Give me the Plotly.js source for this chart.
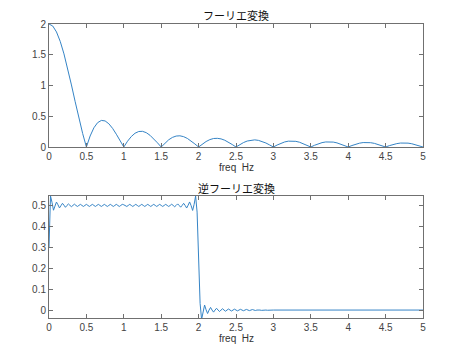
<!DOCTYPE html>
<html>
<head>
<meta charset="utf-8">
<script src="https://cdn.plot.ly/plotly-3.0.1.min.js"></script>
<style>html,body{margin:0;padding:0;background:#fff;}#chart{width:474px;height:351px;}</style>
</head>
<body>
<div id="chart"></div>
<script>
// Top: amplitude spectrum, sampled every 0.05 Hz from 0 to 5
const specStep = 0.05;
const specY = [
  2.000, 1.967, 1.871, 1.717, 1.514, 1.273, 1.009, 0.736, 0.468, 0.219, 0.000,
  0.179, 0.312, 0.396, 0.432, 0.424, 0.378, 0.303, 0.208, 0.104, 0.000,
  0.094, 0.170, 0.224, 0.252, 0.255, 0.233, 0.191, 0.134, 0.068, 0.000,
  0.063, 0.117, 0.156, 0.178, 0.182, 0.168, 0.139, 0.099, 0.050, 0.000,
  0.048, 0.089, 0.120, 0.138, 0.141, 0.132, 0.110, 0.078, 0.040, 0.000,
  0.039, 0.072, 0.097, 0.112, 0.116, 0.108, 0.090, 0.065, 0.033, 0.000,
  0.032, 0.060, 0.082, 0.095, 0.098, 0.092, 0.077, 0.055, 0.029, 0.000,
  0.028, 0.052, 0.071, 0.082, 0.085, 0.080, 0.067, 0.048, 0.025, 0.000,
  0.024, 0.046, 0.062, 0.072, 0.075, 0.070, 0.059, 0.043, 0.022, 0.000,
  0.022, 0.041, 0.055, 0.064, 0.067, 0.063, 0.053, 0.038, 0.020, 0.000
];
// Bottom: inverse transform, sampled every 0.02 from 0 to 3, then flat to 5
const invStep = 0.02;
const invY = [
  0.300, 0.545, 0.515, 0.477, 0.497, 0.516, 0.503, 0.488, 0.499, 0.510,
  0.501, 0.491, 0.500, 0.507, 0.500, 0.494, 0.500, 0.506, 0.500, 0.495,
  0.500, 0.505, 0.500, 0.495, 0.500, 0.505, 0.500, 0.495, 0.500, 0.505,
  0.500, 0.495, 0.500, 0.505, 0.500, 0.495, 0.500, 0.505, 0.500, 0.495,
  0.500, 0.505, 0.500, 0.495, 0.500, 0.505, 0.500, 0.495, 0.500, 0.505,
  0.503, 0.500, 0.495, 0.500, 0.505, 0.500, 0.495, 0.500, 0.505, 0.500,
  0.495, 0.500, 0.505, 0.500, 0.495, 0.500, 0.505, 0.500, 0.495, 0.500,
  0.505, 0.500, 0.495, 0.500, 0.505, 0.500, 0.495, 0.500, 0.505, 0.500,
  0.495, 0.500, 0.5056, 0.500, 0.4937, 0.500, 0.5072, 0.500, 0.4915, 0.500,
  0.510, 0.500, 0.4875, 0.501, 0.5165, 0.499, 0.476, 0.505, 0.545, 0.468,
  0.250, 0.032, -0.045, -0.005, 0.024, 0.001, -0.0165, 0.000, 0.0125, 0.000,
  -0.010, 0.000, 0.0085, 0.000, -0.0072, 0.000, 0.0063, 0.000, -0.0056, 0.000,
  0.005, 0.000, -0.0046, 0.000, 0.0042, 0.000, -0.0038, 0.000, 0.0035, 0.000,
  -0.0032, 0.000, 0.003, 0.000, -0.0027, 0.000, 0.0024, 0.000, -0.0021, 0.000,
  0.0018, 0.000, -0.0015, 0.000, 0.0012, 0.000, -0.001, 0.000, 0.0008, 0.000,
  0.000
];
const tailX = [5];
const tailY = [0];

const xTicks = [0, 0.5, 1, 1.5, 2, 2.5, 3, 3.5, 4, 4.5, 5];
const topYTicks = [0, 0.5, 1, 1.5, 2];
const botYTicks = [0, 0.1, 0.2, 0.3, 0.4, 0.5];
const topTitle = 'フーリエ変換';
const botTitle = '逆フーリエ変換';
const xLabel = 'freq  Hz';

const specX = specY.map((_, i) => +(i * specStep).toFixed(4));
const invX = invY.map((_, i) => +(i * invStep).toFixed(4)).concat(tailX);
const invYAll = invY.concat(tailY);

const lineColor = '#3584c6';
const axisBase = {
  showline: true, linecolor: '#707070', linewidth: 1, mirror: 'allticks',
  ticks: 'inside', ticklen: 4, tickcolor: '#707070', tickwidth: 1,
  showgrid: false, zeroline: false,
  tickfont: {family: 'Liberation Sans, Arial, sans-serif', size: 10, color: '#444'}
};

const data = [
  {x: specX, y: specY, type: 'scatter', mode: 'lines', line: {color: lineColor, width: 1}, xaxis: 'x', yaxis: 'y', hoverinfo: 'skip'},
  {x: invX, y: invYAll, type: 'scatter', mode: 'lines', line: {color: lineColor, width: 1}, xaxis: 'x2', yaxis: 'y2', hoverinfo: 'skip'}
];

const L = 49 / 474, R = 423 / 474;
const layout = {
  width: 474, height: 351,
  margin: {l: 0, r: 0, t: 0, b: 0},
  paper_bgcolor: '#fff', plot_bgcolor: '#fff',
  showlegend: false,
  xaxis: Object.assign({}, axisBase, {domain: [L, R], range: [0, 5], tickvals: xTicks, anchor: 'y'}),
  yaxis: Object.assign({}, axisBase, {domain: [1 - 147 / 351, 1 - 24 / 351], range: [0, 2], tickvals: topYTicks, anchor: 'x'}),
  xaxis2: Object.assign({}, axisBase, {domain: [L, R], range: [0, 5], tickvals: xTicks, anchor: 'y2'}),
  yaxis2: Object.assign({}, axisBase, {domain: [1 - 318 / 351, 1 - 196 / 351], range: [-0.038, 0.545], tickvals: botYTicks, anchor: 'x2'}),
  annotations: [
    {text: topTitle, xref: 'paper', yref: 'paper', x: 236 / 474, y: 1 - 15 / 351, xanchor: 'center', yanchor: 'middle', showarrow: false,
     font: {family: 'Noto Sans CJK JP, sans-serif', size: 11, color: '#111'}},
    {text: botTitle, xref: 'paper', yref: 'paper', x: 236 / 474, y: 1 - 188 / 351, xanchor: 'center', yanchor: 'middle', showarrow: false,
     font: {family: 'Noto Sans CJK JP, sans-serif', size: 11, color: '#111'}},
    {text: xLabel, xref: 'paper', yref: 'paper', x: 236 / 474, y: 1 - 167 / 351, xanchor: 'center', yanchor: 'middle', showarrow: false,
     font: {family: 'Liberation Sans, Arial, sans-serif', size: 10, color: '#333'}},
    {text: xLabel, xref: 'paper', yref: 'paper', x: 236 / 474, y: 1 - 338 / 351, xanchor: 'center', yanchor: 'middle', showarrow: false,
     font: {family: 'Liberation Sans, Arial, sans-serif', size: 10, color: '#333'}}
  ]
};

Plotly.newPlot('chart', data, layout, {staticPlot: true, displayModeBar: false});
</script>
</body>
</html>
